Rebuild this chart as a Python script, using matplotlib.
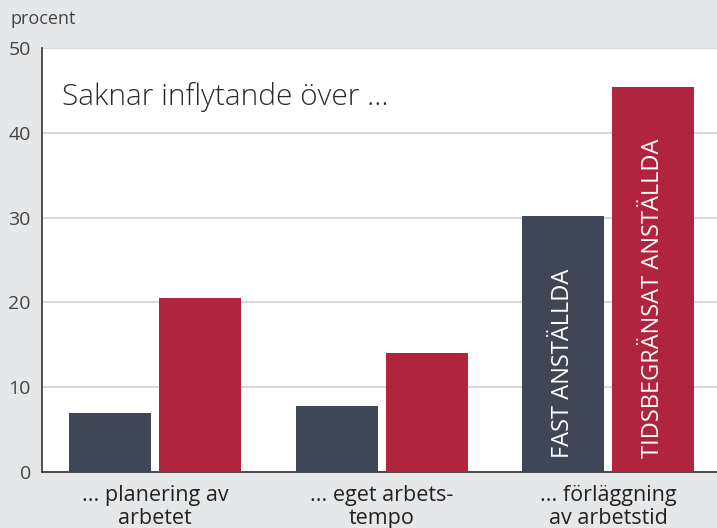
import matplotlib
matplotlib.use("Agg")
import numpy as np
import matplotlib.pyplot as plt

plt.rcParams['font.family'] = ['Open Sans', 'DejaVu Sans']

categories = ["... planering av\narbetet", "... eget arbets-\ntempo", "... förläggning\nav arbetstid"]
fast = [7.0, 7.8, 30.2]
tids = [20.5, 14.0, 45.4]
series_names = ["FAST ANSTÄLLDA", "TIDSBEGRÄNSAT ANSTÄLLDA"]
yticks = [0, 10, 20, 30, 40, 50]

dark = '#3f4656'
red = '#b0243e'
bg = '#e6e7e9'

fig = plt.figure(figsize=(7.17, 5.28), dpi=100, facecolor=bg)
ax = fig.add_axes([42 / 717, 1 - 472 / 528, 675 / 717, 424 / 528])
ax.set_facecolor('white')

x = np.arange(len(categories))
w = 0.362
off = w / 2 + 0.018
ax.bar(x - off, fast, w, color=dark, zorder=3)
ax.bar(x + off, tids, w, color=red, zorder=3)

ax.set_xlim(-0.5, 2.48)
ax.set_ylim(0, 50)
ax.set_yticks(yticks)
ax.set_yticklabels([str(t) for t in yticks], fontsize=14, color='#444444')
ax.tick_params(axis='y', length=0, pad=8)
ax.set_xticks([])
ax.grid(axis='y', color='#d8d8d8', linewidth=1.5, zorder=0)

for s in ['top', 'right']:
    ax.spines[s].set_visible(False)
ax.spines['left'].set_color('#333333')
ax.spines['left'].set_linewidth(1.2)
ax.spines['bottom'].set_color('#333333')
ax.spines['bottom'].set_linewidth(1.2)

for i, lab in enumerate(categories):
    ax.text(x[i], -1.5, lab, ha='center', va='top', fontsize=15.5, color='#222222',
            linespacing=1.15, clip_on=False)

ax.text(-0.41, 44.2, "Saknar inflytande över …", fontsize=21.5, color='#2a2a2a',
        fontweight='light', va='center', ha='left')

ax.text(x[2] - off, 1.6, series_names[0], rotation=90, ha='center', va='bottom',
        color='white', fontsize=17, zorder=4)
ax.text(x[2] + off, 1.6, series_names[1], rotation=90, ha='center', va='bottom',
        color='white', fontsize=17, zorder=4)

fig.text(10 / 717, 1 - 19 / 528, "procent", fontsize=13, color='#444444', va='center', ha='left')

fig.savefig("out.png", dpi=100, facecolor=bg)
